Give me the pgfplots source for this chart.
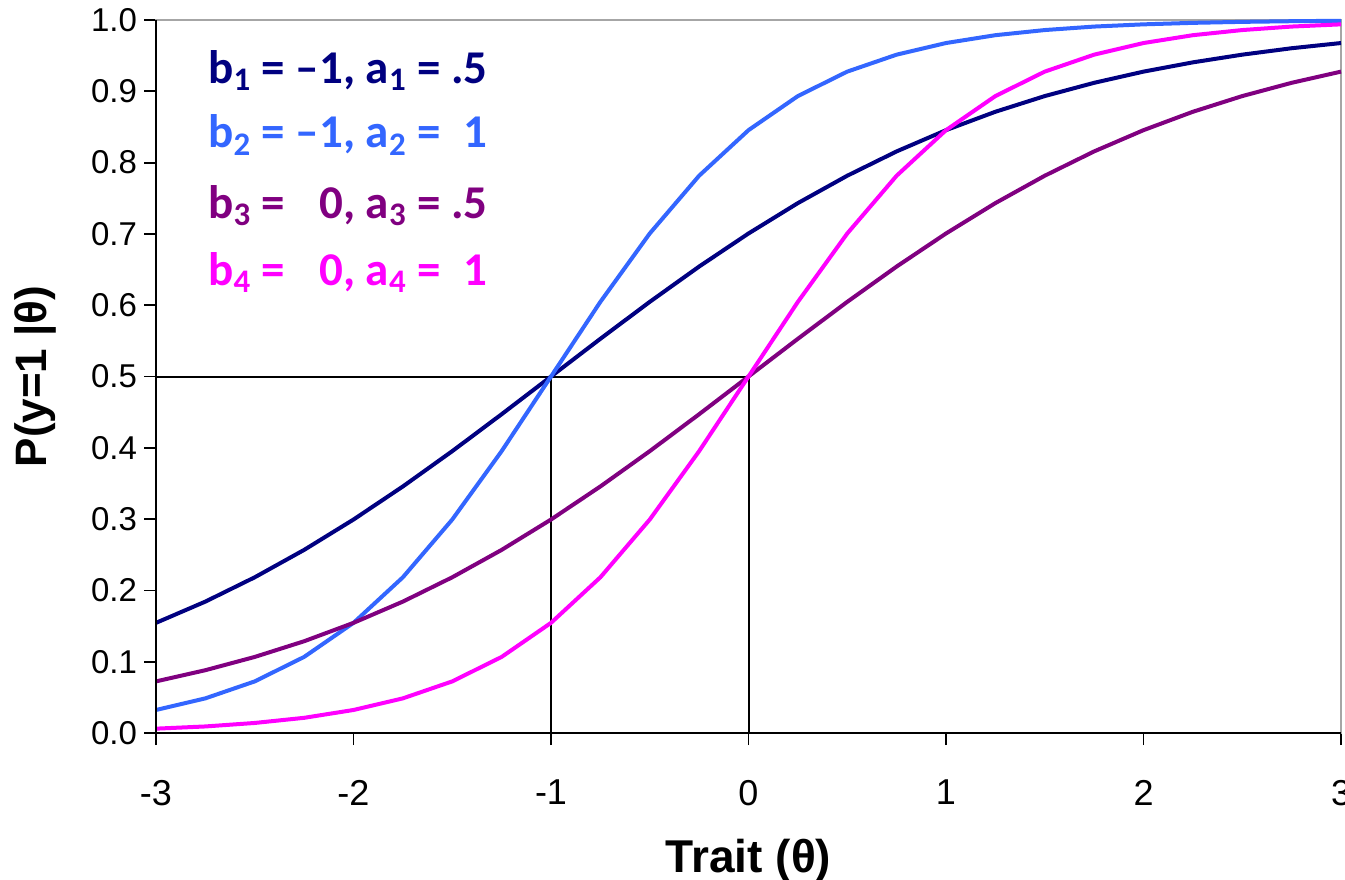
\documentclass[border=0pt]{standalone}
\usepackage{pgfplots}
\pgfplotsset{compat=1.18}
\usepackage{pgfplotstable}
\usepackage{fontspec}
\setmainfont{Liberation Sans}
\newfontfamily\calibri{Carlito}
\definecolor{cnavy}{HTML}{000080}
\definecolor{cblue}{HTML}{3366FF}
\definecolor{cpurple}{HTML}{800080}
\definecolor{cmag}{HTML}{FF00FF}
\pgfplotstableread{
x s1 s2 s3 s4
-3 0.1545 0.0323 0.0724 0.0061
-2.75 0.1843 0.0486 0.0881 0.0092
-2.5 0.2184 0.0724 0.1067 0.0141
-2.25 0.2568 0.1067 0.1287 0.0213
-2 0.2994 0.1545 0.1545 0.0323
-1.75 0.3458 0.2184 0.1843 0.0486
-1.5 0.3953 0.2994 0.2184 0.0724
-1.25 0.4471 0.3953 0.2568 0.1067
-1 0.5 0.5 0.2994 0.1545
-0.75 0.5529 0.6047 0.3458 0.2184
-0.5 0.6047 0.7006 0.3953 0.2994
-0.25 0.6542 0.7816 0.4471 0.3953
0 0.7006 0.8455 0.5 0.5
0.25 0.7432 0.8933 0.5529 0.6047
0.5 0.7816 0.9276 0.6047 0.7006
0.75 0.8157 0.9514 0.6542 0.7816
1 0.8455 0.9677 0.7006 0.8455
1.25 0.8713 0.9787 0.7432 0.8933
1.5 0.8933 0.9859 0.7816 0.9276
1.75 0.9119 0.9908 0.8157 0.9514
2 0.9276 0.9939 0.8455 0.9677
2.25 0.9406 0.9960 0.8713 0.9787
2.5 0.9514 0.9974 0.8933 0.9859
2.75 0.9604 0.9983 0.9119 0.9908
3 0.9677 0.9989 0.9276 0.9939
}\curves
\begin{document}
\begin{tikzpicture}
\begin{axis}[
  scale only axis,
  width=592.5pt, height=356.5pt,
  xmin=-3, xmax=3, ymin=0, ymax=1,
  xtick={-3,-2,-1,0,1,2,3},
  ytick={0,0.1,0.2,0.3,0.4,0.5,0.6,0.7,0.8,0.9,1.0},
  yticklabel style={/pgf/number format/fixed,/pgf/number format/precision=1,/pgf/number format/fixed zerofill},
  /pgf/number format/assume math mode=true,
  tick pos=left,
  tick align=outside,
  major tick length=6pt,
  tick style={black, line width=0.9pt},
  axis line style={draw=gray!70, line width=0.8pt},
  xticklabel style={font=\fontsize{18}{21}\selectfont, anchor=north, yshift=-14pt},
  yticklabel style={font=\fontsize{16.5}{20}\selectfont, anchor=east},
  xlabel={\bfseries Trait (θ)},
  ylabel={\bfseries P(y=1 |θ)},
  xlabel style={font=\fontsize{23}{27}\selectfont, at={(axis description cs:0.5,0)}, anchor=base, yshift=-69.5pt},
  ylabel style={font=\fontsize{22}{26}\selectfont, at={(axis description cs:-0.092,0.5)}, anchor=base},
  clip=false,
]
\addplot[black, line width=1pt] coordinates {(-3,0.5) (0,0.5)};
\addplot[black, line width=1pt] coordinates {(-1,0) (-1,0.5)};
\addplot[black, line width=1pt] coordinates {(0,0) (0,0.5)};
\addplot[cnavy, line width=2pt] table[x=x,y=s1] {\curves};
\addplot[cblue, line width=2pt] table[x=x,y=s2] {\curves};
\addplot[cpurple, line width=2pt] table[x=x,y=s3] {\curves};
\addplot[cmag, line width=2pt] table[x=x,y=s4] {\curves};
\draw[black, line width=1pt] (rel axis cs:0,1) -- (rel axis cs:0,0) -- (rel axis cs:1,0);
\coordinate (bl) at (rel axis cs:0,0);
\coordinate (tr) at (rel axis cs:1,1);
\begin{scope}[every node/.style={anchor=base west, inner sep=0pt, font=\calibri\bfseries\fontsize{23.5}{28}\selectfont}]
\node[text=cnavy] at (axis cs:-2.737,0.9116) {b\textsubscript{1} = –1, a\textsubscript{1} = .5};
\node[text=cblue] at (axis cs:-2.737,0.8205) {b\textsubscript{2} = –1, a\textsubscript{2} = \hphantom{.}1};
\node[text=cpurple] at (axis cs:-2.737,0.7223) {b\textsubscript{3} = \hphantom{–}0, a\textsubscript{3} = .5};
\node[text=cmag] at (axis cs:-2.737,0.6283) {b\textsubscript{4} = \hphantom{–}0, a\textsubscript{4} = \hphantom{.}1};
\end{scope}
\end{axis}
\pgfresetboundingbox
\path ([xshift=-78pt,yshift=-73pt]bl) rectangle ([xshift=2pt,yshift=10pt]tr);
\end{tikzpicture}
\end{document}
